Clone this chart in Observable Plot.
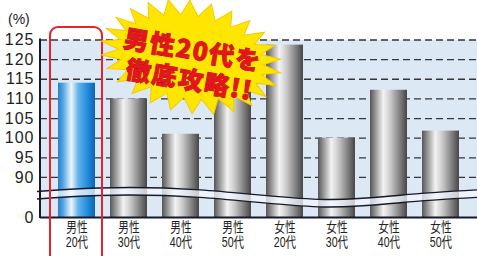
<!DOCTYPE html>
<html><head><meta charset="utf-8">
<script src="https://cdn.jsdelivr.net/npm/d3@7"></script>
<script src="https://cdn.jsdelivr.net/npm/@observablehq/plot@0.6"></script>
<style>
body{margin:0;background:#fff;}
#chart svg g[aria-label="y-axis tick label"] text{letter-spacing:1px;}
</style>
</head><body><div id="chart"></div>
<script>
// ---- data ----
const categories = ["男性20代","男性30代","男性40代","男性50代","女性20代","女性30代","女性40代","女性50代"];
const tickLabels = ["男性\n20代","男性\n30代","男性\n40代","男性\n50代","女性\n20代","女性\n30代","女性\n40代","女性\n50代"];
const values = [114, 110, 101, 112.5, 123.7, 100, 112.2, 101.8];
const highlight = "男性20代";
const yTicks = [90, 95, 100, 105, 110, 115, 120, 125];
const zeroLabel = "0";
const unitLabel = "(%)";
const calloutLines = ["男性20代を", "徹底攻略!!"];
// broken-axis wave: [fraction across frame, y value of upper edge]
const breakWave = [[0, 86.3], [0.14, 87.2], [0.37, 86.7], [0.64, 84.3], [0.83, 85.4], [1, 86.7]];

// ---- layout ----
const yBase = 79.8; // display position of the "0" baseline below the break
const rows = categories.map((c, i) => ({cat: c, value: values[i], hl: c === highlight}));

const defsMark = () => {
  const d = d3.create("svg:defs");
  const gray = d.append("linearGradient").attr("id", "grayGrad").attr("x1", 0).attr("x2", 1).attr("y1", 0).attr("y2", 0);
  [[0, "#555555"], [0.12, "#8a8a8a"], [0.36, "#f3f3f3"], [0.55, "#cacaca"], [0.82, "#7c7c7c"], [1, "#464646"]]
    .forEach(([o, c]) => gray.append("stop").attr("offset", o).attr("stop-color", c));
  const blue = d.append("linearGradient").attr("id", "blueGrad").attr("x1", 0).attr("x2", 1).attr("y1", 0).attr("y2", 0);
  [[0, "#2a7fcc"], [0.13, "#4fa3e2"], [0.36, "#eef7fd"], [0.55, "#62b3ec"], [0.82, "#1d88da"], [1, "#0f62b4"]]
    .forEach(([o, c]) => blue.append("stop").attr("offset", o).attr("stop-color", c));
  return d.node();
};

const waveMark = (index, scales, vals, dims) => {
  const g = d3.create("svg:g");
  const x0 = dims.marginLeft - 3, x1 = dims.width;
  const gap = 7.5;
  const pts = breakWave.map(([f, v]) => [x0 + f * (x1 - x0), scales.y(v)]);
  const area = d3.area().curve(d3.curveNatural).x(p => p[0]).y0(p => p[1]).y1(p => p[1] + gap);
  const line = d3.line().curve(d3.curveNatural);
  g.append("path").attr("d", area(pts)).attr("fill", "#f4f8fd").attr("fill-opacity", 0.75);
  g.append("path").attr("d", line(pts)).attr("fill", "none").attr("stroke", "#161a2c").attr("stroke-width", 1.4);
  g.append("path").attr("d", line(pts.map(p => [p[0], p[1] + gap]))).attr("fill", "none").attr("stroke", "#161a2c").attr("stroke-width", 1.4);
  return g.node();
};

const leftAxisMark = (index, scales, vals, dims) => {
  const g = d3.create("svg:g");
  g.append("line").attr("x1", dims.marginLeft).attr("x2", dims.marginLeft)
    .attr("y1", scales.y(125) - 1).attr("y2", scales.y(yBase) + 1)
    .attr("stroke", "#161a2c").attr("stroke-width", 2);
  g.append("text").attr("x", 8).attr("y", 19).attr("dominant-baseline", "central").attr("text-anchor", "start")
    .attr("font-size", 14).attr("fill", "#222").text(unitLabel);
  return g.node();
};

const burstMark = () => {
  const g = d3.create("svg:g").attr("transform", "translate(191,57) rotate(10)");
  const n = 26, pts = [];
  for (let i = 0; i < 2 * n; i++) {
    const a = i * Math.PI / n;
    const o = i % 2 === 0;
    const rx = o ? 91 : 73, ry = o ? 56 : 41;
    pts.push([rx * Math.cos(a), ry * Math.sin(a)]);
  }
  g.append("path").attr("d", "M" + pts.map(p => p.join(",")).join("L") + "Z")
    .attr("fill", "#ffe600").attr("stroke", "#f5c800").attr("stroke-width", 1);
  const txt = [[0.5, -9], [2.5, 21]];
  calloutLines.forEach((t, i) => {
    g.append("text").attr("x", txt[i][0]).attr("y", txt[i][1])
      .attr("text-anchor", "middle").attr("dominant-baseline", "central")
      .attr("font-family", "'Noto Sans CJK JP', sans-serif").attr("font-weight", 900)
      .attr("font-size", 25).attr("letter-spacing", 1.5)
      .attr("fill", "#e5141f").attr("stroke", "#9c0a14").attr("stroke-width", 0.8)
      .attr("paint-order", "stroke").text(t);
  });
  return g.node();
};

const plot = Plot.plot({
  width: 477, height: 256,
  marginLeft: 40, marginRight: 0, marginTop: 39.5, marginBottom: 39,
  style: {fontFamily: "'Liberation Sans', 'Noto Sans CJK JP', sans-serif", background: "#fff", overflow: "hidden"},
  x: {domain: categories, paddingInner: 0.28, paddingOuter: 0.27, axis: null},
  y: {domain: [yBase, 125], axis: null},
  marks: [
    defsMark,
    Plot.frame({fill: "#dde8f5", stroke: null}),
    Plot.ruleY(yTicks, {stroke: "#353535", strokeDasharray: "7 4", strokeWidth: 1.3}),
    Plot.barY(rows.filter(d => !d.hl), {x: "cat", y1: yBase, y2: "value", fill: "url(#grayGrad)"}),
    Plot.barY(rows.filter(d => d.hl), {x: "cat", y1: yBase, y2: "value", fill: "url(#blueGrad)"}),
    waveMark,
    Plot.ruleY([yBase], {stroke: "#161a2c", strokeWidth: 2}),
    leftAxisMark,
    Plot.barY([highlight], {x: d => d, y1: yBase, y2: 125, insetLeft: -8, insetRight: -7, insetTop: -12.5, insetBottom: -70,
      rx: 8, fill: "none", stroke: "#e8222c", strokeWidth: 2}),
    Plot.axisY({ticks: [yBase, ...yTicks], tickFormat: d => d === yBase ? zeroLabel : String(d),
      tickSize: 0, tickPadding: 6, fontSize: 16, fill: "#1e1e1e", label: null}),
    Plot.axisX({tickFormat: d => tickLabels[categories.indexOf(d)], tickSize: 0, tickPadding: 4,
      fontSize: 14, lineHeight: 1.08, fill: "#222", label: null}),
    burstMark
  ]
});
document.getElementById("chart").appendChild(plot);
// narrow the category labels to the condensed look of the original
d3.select(plot).selectAll('g[aria-label="x-axis tick label"] tspan').each(function() {
  const len = this.getComputedTextLength();
  d3.select(this).attr("textLength", len * 0.76).attr("lengthAdjust", "spacingAndGlyphs");
});
</script>
</body></html>
